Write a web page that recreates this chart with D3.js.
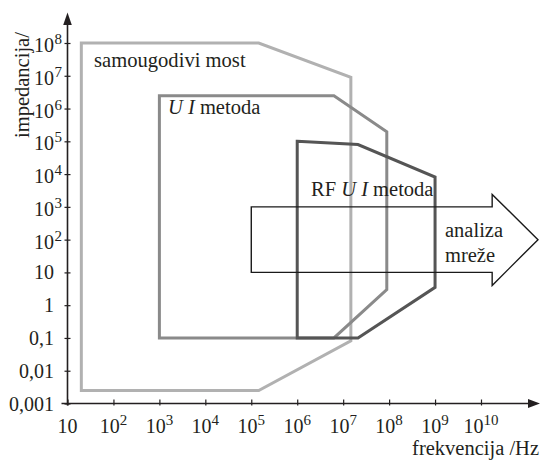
<!DOCTYPE html>
<html><head><meta charset="utf-8">
<script src="https://cdn.jsdelivr.net/npm/d3@7"></script>
<style>
body{margin:0;background:#fff}
text{font-family:"Liberation Serif","Times New Roman",serif;fill:#231f20}
</style>
</head><body><svg id="c" width="541" height="460"></svg>
<script>
// ---- data ----
const xTickValues = [1e1,1e2,1e3,1e4,1e5,1e6,1e7,1e8,1e9,1e10];
const xTickBases  = ["10","10","10","10","10","10","10","10","10","10"];
const xTickExps   = ["","2","3","4","5","6","7","8","9","10"];
const yTickValues = [1e-3,1e-2,1e-1,1,1e1,1e2,1e3,1e4,1e5,1e6,1e7,1e8];
const yTickBases  = ["0,001","0,01","0,1","1","10","10","10","10","10","10","10","10"];
const yTickExps   = ["","","","","","2","3","4","5","6","7","8"];
// regions: [frequency Hz, impedance Ohm]
const samougodiviMost = [[20,1e8],[1.45e5,1e8],[1.47e7,9e6],[1.47e7,0.082],[1.45e5,0.0025],[20,0.0025]];
const uiMetoda        = [[1e3,2.45e6],[6.3e6,2.45e6],[8.9e7,1.95e5],[8.9e7,3],[6.3e6,0.1],[1e3,0.1]];
const rfUiMetoda      = [[1e6,1e5],[2.1e7,8e4],[1e9,8.1e3],[1e9,3.5],[2.1e7,0.1],[1e6,0.1]];
const analizaMreze    = [[1e5,1e3],[1.75e10,1e3],[1.75e10,2.4e3],[1.74e11,100],[1.75e10,4],[1.75e10,10],[1e5,10]];
const regionNames  = ["samougodivi most","U I metoda","RF U I metoda","analiza mreže"];

// ---- chart ----
const svg = d3.select("#c");
const x = d3.scaleLog().domain([10,1e10]).range([67.5,481]);
const y = d3.scaleLog().domain([1e-3,1e8]).range([403.5,43]);
const line = d3.line().x(d=>x(d[0])).y(d=>y(d[1])).curve(d3.curveLinearClosed);

const styles = [
  {data:samougodiviMost, stroke:"#b1b1b1", w:3},
  {data:uiMetoda, stroke:"#8a8a8a", w:3},
  {data:rfUiMetoda, stroke:"#555555", w:3},
  {data:analizaMreze, stroke:"#1a1a1a", w:1.4}
];
svg.selectAll("path.region").data(styles).join("path")
  .attr("class","region")
  .attr("d",d=>line(d.data))
  .attr("fill","none")
  .attr("stroke",d=>d.stroke)
  .attr("stroke-width",d=>d.w)
  .attr("stroke-linejoin","miter");

// axes
const ax = svg.append("g").attr("transform",`translate(0,${y(1e-3)})`)
  .call(d3.axisBottom(x).tickValues(xTickValues).tickFormat("").tickSizeOuter(0));
ax.select(".domain").remove();
ax.selectAll(".tick line").attr("y1",-4).attr("y2",2).attr("stroke","#231f20").attr("stroke-width",1.2);

const ay = svg.append("g").attr("transform",`translate(${x(10)},0)`)
  .call(d3.axisLeft(y).tickValues(yTickValues).tickFormat("").tickSizeOuter(0));
ay.select(".domain").remove();
ay.selectAll(".tick line").attr("x1",3).attr("x2",-3).attr("stroke","#231f20").attr("stroke-width",1.2);

const x0 = x(10), y0 = y(1e-3);
svg.append("line").attr("x1",x0-6).attr("x2",528).attr("y1",y0).attr("y2",y0)
  .attr("stroke","#231f20").attr("stroke-width",1.6);
svg.append("path").attr("d",`M${528},${y0-4.5}L540,${y0}L${528},${y0+4.5}Z`).attr("fill","#231f20");
svg.append("line").attr("x1",x0).attr("x2",x0).attr("y1",y0+2).attr("y2",25)
  .attr("stroke","#231f20").attr("stroke-width",1.6);
svg.append("path").attr("d",`M${x0-4.3},25L${x0},12.5L${x0+4.3},25Z`).attr("fill","#231f20");

// x tick labels
const xl = svg.append("g");
xTickValues.forEach((v,i)=>{
  const t = xl.append("text").attr("x",x(v)).attr("y",433).attr("text-anchor","middle")
    .attr("font-size",20);
  t.append("tspan").text(xTickBases[i]);
  if (xTickExps[i]) t.append("tspan").attr("dy",-8).attr("font-size",15).text(xTickExps[i]);
});
// y tick labels
const yl = svg.append("g");
yTickValues.forEach((v,i)=>{
  const exp = yTickExps[i];
  const by = y(v) + (exp ? 9 : 7);
  yl.append("text").attr("x",54).attr("y",by).attr("text-anchor","end").attr("font-size",20).text(yTickBases[i]);
  if (exp) yl.append("text").attr("x",54.5).attr("y",by-8).attr("font-size",15).text(exp);
});

// axis titles
svg.append("text").attr("x",539).attr("y",455).attr("text-anchor","end").attr("font-size",20.5)
  .text("frekvencija /Hz");
svg.append("text").attr("transform","translate(29,138) rotate(-90)").attr("font-size",20.5)
  .text("impedancija/");

// region labels
svg.append("text").attr("x",94).attr("y",67).attr("font-size",20.6).text(regionNames[0]);
const t1 = svg.append("text").attr("x",168).attr("y",114).attr("font-size",20.5);
t1.append("tspan").attr("font-style","italic").text("U I");
t1.append("tspan").text(" metoda");
const t2 = svg.append("text").attr("x",311).attr("y",196).attr("font-size",20.5);
t2.append("tspan").text("RF ");
t2.append("tspan").attr("font-style","italic").text("U I");
t2.append("tspan").text(" metoda");
const [w1,w2] = regionNames[3].split(" ");
svg.append("text").attr("x",445).attr("y",237).attr("font-size",20.5).text(w1);
svg.append("text").attr("x",445).attr("y",262).attr("font-size",20.5).text(w2);
</script></body></html>
